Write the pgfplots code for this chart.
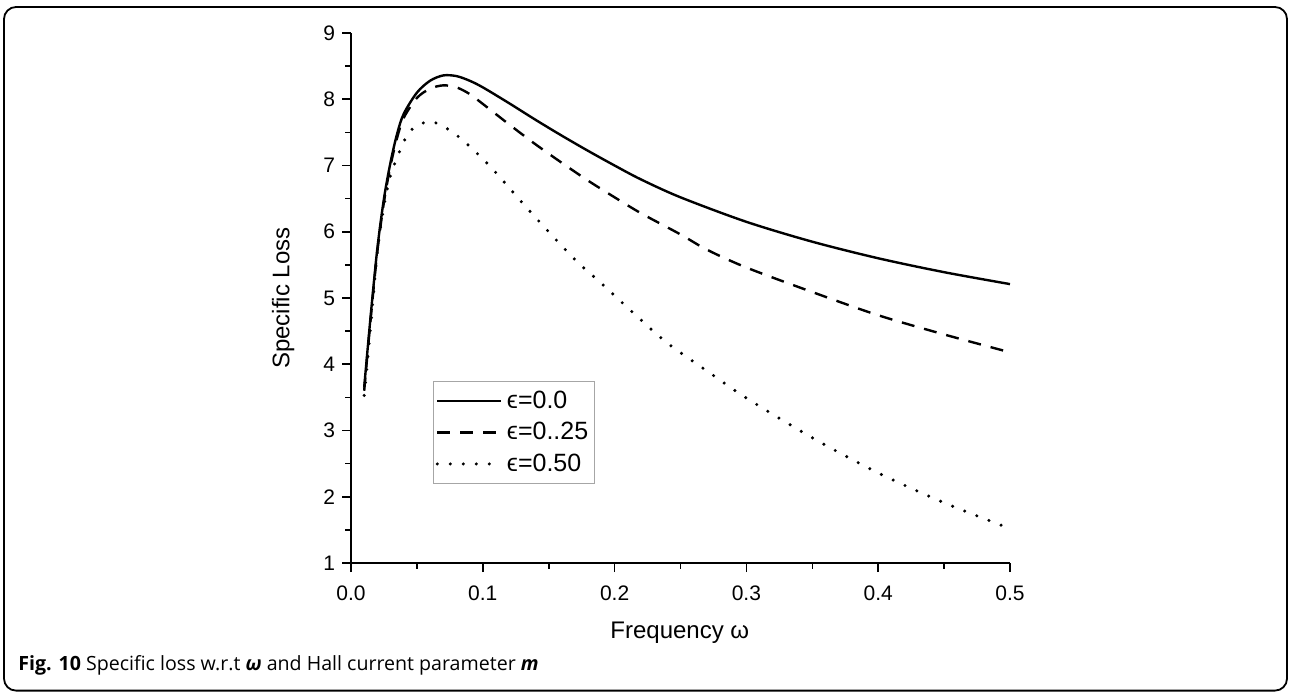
\documentclass[border=0pt]{standalone}
\usepackage{pgfplots}
\pgfplotsset{compat=1.18}
\usepackage{fontspec}
\setmainfont{Liberation Sans}
\newfontfamily\capfont{Open Sans}
\begin{document}
\begin{tikzpicture}[x=1pt,y=1pt]
\path[use as bounding box] (0,0) rectangle (645,346.5);
\draw[line width=0.9pt, rounded corners=6pt] (2,1.2) rectangle (643.5,343);
\begin{axis}[
  at={(175.5pt,65pt)}, anchor=south west,
  width=329.5pt, height=265pt, scale only axis,
  xmin=0, xmax=0.5, ymin=1, ymax=9,
  axis x line=bottom, axis y line=left,
  axis line style={-, line width=1pt},
  xtick={0,0.1,0.2,0.3,0.4,0.5}, ytick={1,2,...,9},
  minor x tick num=1, minor y tick num=1,
  tick align=outside,
  major tick length=4.5pt, minor tick length=2.8pt,
  every tick/.style={line width=0.8pt, black},
  xticklabel style={/pgf/number format/fixed, /pgf/number format/fixed zerofill,
    /pgf/number format/precision=1, yshift=-3.5pt},
  /pgf/number format/assume math mode=true,
  tick label style={font=\fontsize{10.5}{12}\selectfont},
  xlabel={Frequency ω}, ylabel={Specific Loss},
  label style={font=\fontsize{12}{14}\selectfont},
  xlabel style={at={(axis description cs:0.499,-0.132)}, anchor=center},
  ylabel style={at={(axis description cs:-0.103,0.5)}, anchor=center},
  legend style={at={(axis description cs:0.1244,0.343)}, anchor=north west,
    draw=gray!70, line width=0.6pt, font=\fontsize{12.5}{15}\selectfont,
    inner xsep=1pt, inner ysep=2.5pt, row sep=1.5pt},
  legend cell align=left,
  legend image code/.code={\draw[#1] (0pt,0pt) -- (32pt,0pt);},
]
\addplot[black, line width=1.2pt, smooth] coordinates {
(0.01,3.65)(0.015,4.75)(0.02,5.75)(0.025,6.5)(0.03,7.05)(0.035,7.48)(0.04,7.78)
(0.05,8.1)(0.06,8.28)(0.07,8.36)(0.08,8.35)(0.09,8.28)(0.10,8.18)(0.12,7.94)
(0.14,7.69)(0.16,7.45)(0.18,7.22)(0.20,7.00)(0.22,6.79)(0.25,6.52)(0.30,6.15)
(0.35,5.85)(0.40,5.60)(0.45,5.39)(0.50,5.21)};
\addlegendentry{ϵ=0.0}
\addplot[black, line width=1.2pt, smooth, dash pattern=on 6.5pt off 5pt] coordinates {
(0.01,3.6)(0.015,4.7)(0.02,5.7)(0.025,6.45)(0.03,7.0)(0.035,7.42)(0.04,7.72)
(0.05,8.02)(0.06,8.16)(0.07,8.21)(0.08,8.18)(0.09,8.08)(0.10,7.93)(0.12,7.62)
(0.14,7.32)(0.16,7.04)(0.18,6.77)(0.20,6.52)(0.22,6.28)(0.25,5.96)(0.27,5.73)
(0.30,5.46)(0.35,5.09)(0.40,4.74)(0.45,4.45)(0.50,4.18)};
\addlegendentry{ϵ=0..25}
\addplot[black, line width=1.7pt, smooth, line cap=round, dash pattern=on 0pt off 6.5pt] coordinates {
(0.01,3.53)(0.015,4.6)(0.02,5.7)(0.025,6.4)(0.03,6.85)(0.035,7.12)(0.04,7.36)
(0.045,7.52)(0.05,7.6)(0.058,7.66)(0.065,7.64)(0.075,7.53)(0.085,7.38)(0.10,7.10)
(0.11,6.89)(0.133,6.37)(0.156,5.87)(0.173,5.52)(0.19,5.22)(0.215,4.76)(0.24,4.32)
(0.27,3.90)(0.30,3.49)(0.35,2.89)(0.40,2.36)(0.45,1.91)(0.50,1.52)};
\addlegendentry{ϵ=0.50}
\end{axis}
\node[anchor=base west, inner sep=0pt, font=\capfont\fontsize{9.8}{11}\selectfont] at (9,11.5)
  {\textbf{Fig. 10} Specific loss w.r.t \textbf{\textit{ω}} and Hall current parameter \textbf{\textit{m}}};
\end{tikzpicture}
\end{document}
